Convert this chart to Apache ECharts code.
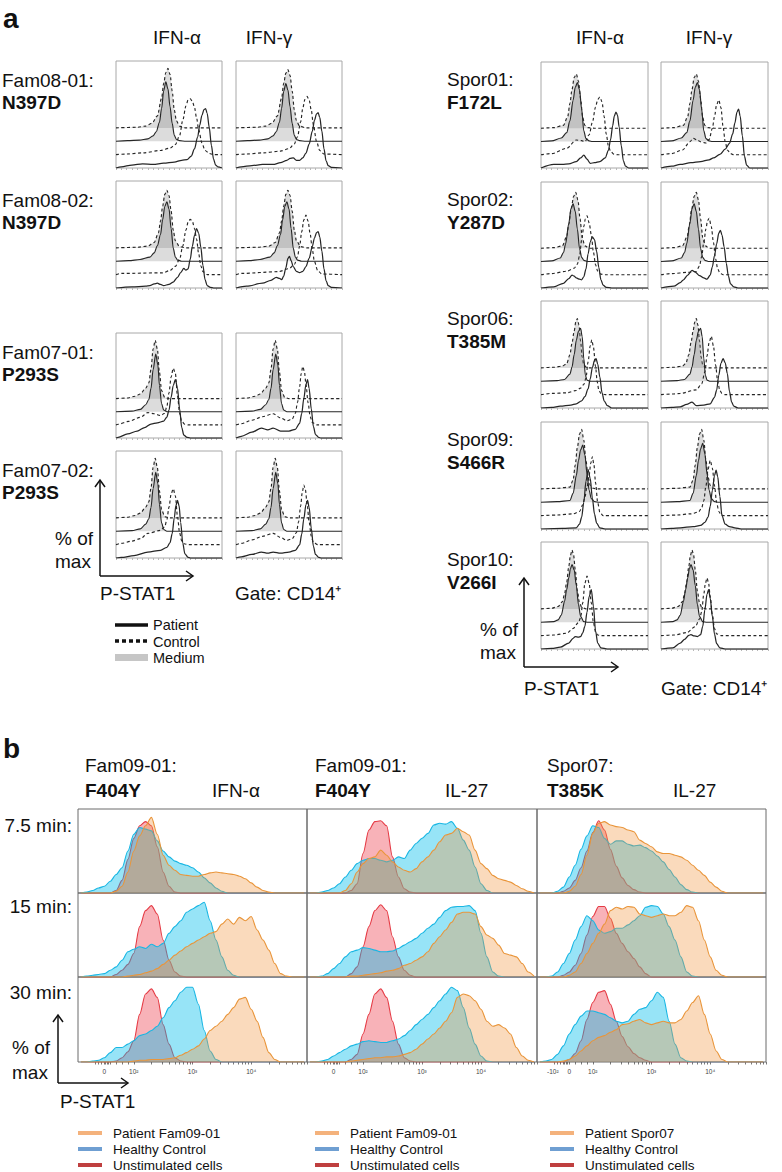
<!DOCTYPE html>
<html><head><meta charset="utf-8">
<script src="https://cdn.jsdelivr.net/npm/echarts@6/dist/echarts.min.js"></script>
<style>html,body{margin:0;padding:0;background:#fff}#c{width:782px;height:1172px}</style>
</head><body><div id="c"></div>
<script>
// ---------------- DATA: panel a ----------------
const A_STIM = ['IFN-α', 'IFN-γ'];
const A_LEFT_IDS = ['Fam08-01:', 'Fam08-02:', 'Fam07-01:', 'Fam07-02:'];
const A_LEFT_MUT = ['N397D', 'N397D', 'P293S', 'P293S'];
const A_RIGHT_IDS = ['Spor01:', 'Spor02:', 'Spor06:', 'Spor09:', 'Spor10:'];
const A_RIGHT_MUT = ['F172L', 'Y287D', 'T385M', 'S466R', 'V266I'];
const A_LEGEND = ['Patient', 'Control', 'Medium'];
// box order: L1a,L1g,L2a,L2g,L3a,L3g,L4a,L4g,R1a,R1g,...,R5a,R5g ; points [P-STAT1 position %, % of max]
const A_CTRL_MEDIUM = [
 [[0,0],[20,1],[28,3],[34,8],[39,20],[43,50],[45,75],[47,93],[49,100],[51,90],[53,62],[55,30],[57,12],[60,3],[66,0],[100,0]],
 [[0,0],[20,1],[28,3],[34,8],[39,20],[43,50],[45,75],[47,92],[49,98],[51,88],[53,62],[55,30],[57,12],[60,3],[66,0],[100,0]],
 [[0,0],[20,1],[30,3],[36,9],[40,25],[42,45],[44,70],[46,90],[48,97],[50,88],[52,62],[54,30],[56,12],[60,2],[66,0],[100,0]],
 [[0,0],[20,1],[31,3],[37,9],[41,25],[43,45],[45,70],[47,90],[49,97],[51,88],[53,62],[55,30],[57,12],[61,2],[67,0],[100,0]],
 [[0,0],[10,1],[18,4],[23,8],[28,18],[31,27],[33,50],[35,85],[37,100],[39,85],[41,45],[43,14],[46,2],[50,0],[100,0]],
 [[0,0],[10,1],[18,4],[23,8],[28,18],[31,27],[33,50],[35,85],[37,100],[39,85],[41,45],[43,14],[46,2],[50,0],[100,0]],
 [[0,0],[10,1],[18,4],[23,8],[28,18],[31,27],[33,50],[35,85],[37,100],[39,85],[41,45],[43,14],[46,2],[50,0],[100,0]],
 [[0,0],[10,1],[18,4],[23,8],[28,18],[31,27],[33,50],[35,85],[37,100],[39,85],[41,45],[43,14],[46,2],[50,0],[100,0]],
 [[0,0],[12,1],[21,5],[25,20],[27,42],[29,66],[31,86],[33,92],[35,80],[37,50],[39,18],[41,5],[44,1],[50,0],[100,0]],
 [[0,0],[12,1],[21,5],[25,20],[27,42],[29,66],[31,86],[33,92],[35,80],[37,50],[39,18],[41,5],[44,1],[50,0],[100,0]],
 [[0,0],[12,1],[20,4],[24,20],[26,40],[28,65],[30.5,88],[32.5,95],[34.5,82],[36.5,50],[38.5,18],[41,4],[45,0],[100,0]],
 [[0,0],[12,1],[20,4],[24.5,20],[26.5,40],[28.5,65],[31,88],[33,95],[35,82],[37,50],[39,18],[41.5,4],[45,0],[100,0]],
 [[0,0],[12,1],[20,3],[24,7],[27,22],[29,42],[31,62],[32.5,77],[34,83],[35.5,72],[37,45],[38.5,18],[40,5],[43,0],[100,0]],
 [[0,0],[12,1],[20,3],[23,7],[26,22],[28,42],[30,62],[31.5,77],[33,83],[34.5,72],[36,45],[37.5,18],[39,5],[42,0],[100,0]],
 [[0,0],[15,1],[27,3],[30,15],[32,40],[34,70],[36,92],[38,100],[40,82],[42,48],[44,20],[46,6],[49,1],[52,0],[100,0]],
 [[0,0],[15,1],[27,3],[30,15],[32,40],[34,70],[36,92],[38,100],[40,82],[42,48],[44,20],[46,6],[49,1],[52,0],[100,0]],
 [[0,0],[10,1],[16,4],[20,12],[22,25],[24,45],[26,72],[27.5,90],[29,99],[30.5,90],[32,66],[34,30],[36,10],[38,3],[42,0],[100,0]],
 [[0,0],[10,1],[16,4],[20,12],[22,25],[24,45],[26,72],[27.5,90],[29,99],[30.5,90],[32,66],[34,30],[36,10],[38,3],[42,0],[100,0]]
];
const A_PAT_MEDIUM = [
 [[0,0],[11,1],[22,2],[30,4],[35,9],[38,16],[41,32],[43,55],[45,85],[47,100],[49,88],[51,58],[53,30],[55,10],[57,3],[60,1],[66,0],[100,0]],
 [[0,0],[11,1],[22,2],[30,4],[35,9],[38,16],[41,32],[43,55],[45,84],[47,97],[49,86],[51,58],[53,30],[55,10],[57,3],[60,1],[66,0],[100,0]],
 [[0,0],[12,1],[22.6,3],[32,7],[36,14],[39,26],[42,45],[44,70],[46,92],[48,100],[50,88],[52,55],[54,22],[56,7],[58,2],[62,0],[100,0]],
 [[0,0],[12,1],[22.6,3],[32,7],[36,14],[39,26],[42,45],[44,70],[46,92],[48,100],[50,88],[52,55],[54,22],[56,7],[58,2],[62,0],[100,0]],
 [[0,0],[15,1],[23,4],[28,12],[31,21],[33,40],[35,72],[37.5,99],[39.5,80],[41,45],[43,14],[45,3],[48,0],[100,0]],
 [[0,0],[15,1],[23,4],[28,12],[31,21],[33,40],[35,72],[37.5,99],[39.5,80],[41,45],[43,14],[45,3],[48,0],[100,0]],
 [[0,0],[15,1],[23,4],[28,12],[31,21],[33,40],[35,72],[37.5,99],[39.5,80],[41,45],[43,14],[45,3],[48,0],[100,0]],
 [[0,0],[15,1],[23,4],[28,12],[31,21],[33,40],[35,72],[37.5,99],[39.5,80],[41,45],[43,14],[45,3],[48,0],[100,0]],
 [[0,0],[10,1],[19,6],[24,15],[27,35],[30,70],[32,92],[34,100],[36,88],[38,55],[40,18],[42,5],[45,1],[48,0],[100,0]],
 [[0,0],[10,1],[19,6],[24,15],[27,35],[30,70],[32,92],[34,100],[36,88],[38,55],[40,18],[42,5],[45,1],[48,0],[100,0]],
 [[0,0],[10,1],[18,6],[21,15],[23,30],[26,65],[28,90],[30,98],[32,85],[34,55],[36,22],[38,7],[40,2],[44,0],[100,0]],
 [[0,0],[10,1],[19,6],[22,15],[24,30],[27,65],[29,90],[31,98],[33,85],[35,55],[37,22],[39,7],[41,2],[45,0],[100,0]],
 [[0,0],[15,1],[22,3],[27,12],[29,24],[31,45],[33,69],[35,84],[37,89],[38.5,75],[40,38],[41.5,10],[43,2],[46,0],[100,0]],
 [[0,0],[15,1],[22,3],[27,12],[29,24],[31,45],[33,69],[35,84],[37,89],[38.5,75],[40,38],[41.5,10],[43,2],[46,0],[100,0]],
 [[0,0],[15,1],[27,3],[30,15],[33,45],[35,70],[37,88],[39,96],[41,80],[43,48],[45,20],[47,6],[50,1],[54,0],[100,0]],
 [[0,0],[15,1],[27,3],[30,15],[33,45],[35,70],[37,90],[39,99],[41,82],[43,48],[45,20],[47,6],[50,1],[54,0],[100,0]],
 [[0,0],[12,1],[16,4],[19,12],[22,35],[24,55],[26,75],[27.5,90],[29,97],[31,88],[33,62],[35,30],[37,10],[40,1],[44,0],[100,0]],
 [[0,0],[11,1],[15,4],[18,12],[21,35],[23,55],[25,75],[26.5,90],[28,97],[30,88],[32,62],[34,30],[36,10],[39,1],[43,0],[100,0]]
];
const A_CONTROL = [
 [[0,0],[10,1],[26,3],[42,7],[51,11],[56,17],[60,32],[63,58],[66,82],[68,92],[70,94],[72,90],[74,80],[76,62],[78,42],[81,20],[84,7],[88,2],[92,0],[100,0]],
 [[0,0],[10,1],[26,3],[42,6],[50,10],[55,18],[58,30],[61,55],[63,78],[65,93],[67,98],[69,92],[71,75],[73,50],[76,22],[79,7],[83,1],[100,0]],
 [[0,0],[5,2],[44,3],[51,7],[56,14],[60,26],[63,48],[66,75],[68,88],[70,93],[72,90],[74,78],[76,60],[78,35],[80,15],[82,5],[86,0],[100,0]],
 [[0,0],[5,2],[40,5],[50,10],[55,17],[58,30],[60,48],[62,72],[64,92],[66,100],[68,90],[70,68],[72,42],[74,22],[77,7],[81,1],[100,0]],
 [[0,0],[2,1],[12,6],[23,13],[30,21],[36,19],[42,16],[46,20],[48,32],[50,55],[52,82],[54,97],[56,88],[58,50],[60,20],[62,6],[65,1],[68,0],[100,0]],
 [[0,0],[5,2],[15,8],[25,14],[35,19],[42,12],[48,7],[53,10],[56,20],[58,38],[60,65],[61.5,88],[63,100],[64.5,92],[66,70],[68,38],[70,14],[72,4],[76,0],[100,0]],
 [[0,0],[5,2],[15,6],[23,10],[30,19],[42,24],[46,30],[48,42],[50,63],[52,85],[54,94],[56,82],[58,48],[60,20],[62,6],[65,1],[68,0],[100,0]],
 [[0,0],[5,2],[15,8],[25,14],[35,19],[42,12],[48,7],[53,10],[57,20],[59,38],[61,65],[62.5,88],[64,100],[65.5,92],[67,70],[69,38],[71,14],[73,4],[77,0],[100,0]],
 [[0,0],[10,2],[24,11],[33,25],[38,24],[41,22],[45,34],[48,55],[51,81],[53,94],[55,98],[57,90],[59,65],[61,35],[63,15],[65,6],[68,1],[72,0],[100,0]],
 [[0,0],[10,2],[20,8],[27,22],[30,28],[34,25],[37,22],[42,20],[45,26],[48,45],[50,65],[52,85],[54,93],[56,80],[58,48],[60,22],[62,8],[65,2],[68,0],[100,0]],
 [[0,0],[10,2],[24,6],[31,11],[34,18],[36,32],[38,59],[40,82],[41.5,95],[43,100],[45,88],[47,68],[49,38],[51,17],[53,6],[56,1],[60,0],[100,0]],
 [[0,0],[10,2],[25,4],[33,6],[36,15],[38,31],[40,55],[42,78],[43.5,92],[45,96],[47,82],[49,55],[51,27],[53,10],[55,3],[58,0],[100,0]],
 [[0,0],[10,2],[24,3],[33,7],[37,11],[40,17],[42,28],[44,55],[46,82],[47.5,92],[49,80],[51,47],[52.5,22],[54,8],[56,2],[60,0],[100,0]],
 [[0,0],[10,1],[18,2],[33,8],[38,18],[41,38],[43,65],[45,88],[47,98],[49,82],[51,50],[53,22],[55,7],[57,2],[60,0],[100,0]],
 [[0,0],[15,1],[30,3],[36,7],[39,18],[41,31],[43,48],[45,68],[46.5,88],[48,99],[49.5,85],[51,55],[53,22],[55,6],[58,0],[100,0]],
 [[0,0],[15,1],[28,3],[35,6],[38,13],[40,25],[42,50],[44,78],[46,93],[48,80],[50,50],[52,22],[54,7],[56,2],[58,0],[100,0]],
 [[0,0],[12,1],[24,4],[30,12],[35,22],[37,30],[39,55],[41,88],[43,100],[45,88],[47,55],[49,22],[51,6],[53,1],[56,0],[100,0]],
 [[0,0],[12,1],[24,5],[32,15],[36,28],[38,40],[40,70],[41.5,88],[43,97],[44.5,88],[46,66],[48,35],[50,12],[52,3],[56,0],[100,0]]
];
const A_PATIENT = [
 [[0,0],[5,2],[15,5],[25,7],[35,6],[45,8],[55,10],[62,13],[67,14],[71,20],[74,32],[77,52],[79,72],[81,88],[83,98],[84.5,100],[86,92],[88,68],[90,38],[92,15],[94,5],[96,2],[100,0]],
 [[0,0],[5,2],[15,4],[25,6],[35,6],[42,9],[48,13],[51,16],[54,17],[57,13],[60,13],[63,17],[66,25],[69,40],[72,62],[74,80],[76,91],[77.5,93],[79,85],[81,62],[83,32],[85,12],[87,4],[90,1],[100,0]],
 [[0,0],[15,2],[28,3],[32,4],[36,7],[39,8],[42,6],[45,4],[50,6],[54,10],[58,18],[61,26],[64,33],[66,30],[68,32],[70,48],[72,70],[74,88],[76,100],[78,92],[80,69],[82,38],[84,14],[86,4],[89,1],[92,0],[100,0]],
 [[0,0],[10,3],[25,8],[33,13],[38,18],[41,16],[43,14],[45,20],[47,34],[49,50],[50.5,53],[52,46],[54,36],[57,28],[60,26],[63,28],[66,36],[69,50],[72,70],[74,84],[76,93],[77.5,95],[79,86],[81,62],[83,32],[85,12],[87,4],[90,1],[100,0]],
 [[0,0],[2,1],[11,7],[20,12],[27,18],[33,24],[39,26],[45,29],[48,36],[50,48],[52,70],[54,90],[56,100],[58,86],[60,50],[62,18],[64,5],[67,1],[70,0],[100,0]],
 [[0,0],[5,3],[15,10],[24,17],[30,14],[35,17],[42,12],[50,12],[56,15],[60,25],[62,42],[64,68],[66,92],[67.5,100],[69,85],[71,50],[73,20],[75,6],[78,1],[80,0],[100,0]],
 [[0,0],[5,1],[17,4],[30,10],[42,13],[48,18],[51,26],[53,41],[55,68],[56.5,88],[58,97],[59.5,88],[61,60],[63,25],[65,7],[68,1],[70,0],[100,0]],
 [[0,0],[5,2],[15,6],[24,10],[30,8],[35,10],[42,8],[50,10],[56,13],[60,22],[62,40],[64,66],[66,90],[67.5,97],[69,85],[71,50],[73,20],[75,6],[78,1],[80,0],[100,0]],
 [[0,0],[12,6],[20,6],[26,7],[33,11],[37,17],[40,22],[43,15],[46,8],[50,9],[55,11],[60,17],[63,30],[65,48],[67,72],[68.5,88],[70,95],[71.5,90],[73,70],[75,38],[77,12],[79,3],[82,0],[100,0]],
 [[0,0],[10,3],[18,6],[28,9],[37,11],[45,14],[49,17],[55,23],[60,32],[64,42],[67,58],[69,76],[71,95],[72.5,100],[74,88],[76,55],[78,20],[80,5],[83,0],[100,0]],
 [[0,0],[12,2],[21,8],[26,16],[29,22],[31,20],[33,17],[36,15],[38,14],[40,19],[42,32],[44,58],[46,78],[48,87],[50,82],[52,62],[54,35],[56,14],[58,5],[61,1],[66,0],[100,0]],
 [[0,0],[12,3],[18,9],[21,14],[25,22],[29,30],[32,27],[36,21],[40,17],[43,15],[46,22],[48,36],[50,55],[52,75],[54,93],[55.5,98],[57,90],[59,70],[61,42],[63,20],[65,7],[68,2],[72,0],[100,0]],
 [[0,0],[10,1],[18,3],[28,5],[33,7],[38,12],[41,19],[44,32],[46,49],[48,68],[50,80],[51.5,83],[53,74],[55,52],[57,26],[59,12],[62,4],[66,0],[100,0]],
 [[0,0],[10,1],[18,2],[24,6],[29,10],[33,4],[40,5],[46,7],[50,18],[52,30],[54,55],[56,75],[58,83],[60,76],[62,58],[64,28],[66,10],[68,3],[72,0],[100,0]],
 [[0,0],[20,1],[33,2],[36,8],[38,20],[40,45],[42,80],[44,100],[46,85],[48,52],[50,25],[52,10],[55,2],[60,0],[100,0]],
 [[0,0],[10,1],[18,2],[30,4],[37,6],[41,11],[44,20],[46,38],[48,65],[50,90],[51.5,99],[53,88],[55,55],[57,22],[60,8],[64,4],[69,2],[75,0],[100,0]],
 [[0,0],[10,1],[18,3],[26,10],[30,18],[32,21],[35,20],[37,21],[39,27],[41,38],[43,62],[45,88],[47,100],[49,72],[51,30],[53,10],[56,2],[62,0],[100,0]],
 [[0,0],[11,2],[18,10],[22,16],[26,23],[28,24],[31,22],[34,21],[37,24],[39,38],[41,66],[43,92],[44.5,100],[46,85],[48,55],[50,25],[52,9],[55,2],[60,0],[100,0]]
];

// ---------------- DATA: panel b ----------------
const B_IDS = ['Fam09-01:', 'Fam09-01:', 'Spor07:'];
const B_MUT = ['F404Y', 'F404Y', 'T385K'];
const B_STIM = ['IFN-α', 'IL-27', 'IL-27'];
const B_TIMES = ['7.5 min:', '15 min:', '30 min:'];
const B_LEGENDS = [
 ['Patient Fam09-01', 'Healthy Control', 'Unstimulated cells'],
 ['Patient Fam09-01', 'Healthy Control', 'Unstimulated cells'],
 ['Patient Spor07', 'Healthy Control', 'Unstimulated cells']
];
const B_TICKS_STD = [[1.5,'0'],[2,'10²'],[3,'10³'],[4,'10⁴']];
const B_TICKS_SP = [[1.32,'-10²'],[1.6,'0'],[2,'10²'],[3,'10³'],[4,'10⁴']];
// x in display decades (10² = 2, 10³ = 3 ...)
const B_X = [1.1,1.2,1.3,1.4,1.5,1.6,1.7,1.8,1.9,2.0,2.1,2.2,2.3,2.4,2.5,2.6,2.7,2.8,2.9,3.0,3.1,3.2,3.3,3.4,3.5,3.6,3.7,3.8,3.9,4.0,4.1,4.2,4.3,4.4,4.5,4.6,4.7,4.8,4.9];
// order: col1 rows 1-3, col2 rows 1-3, col3 rows 1-3
const B_UNSTIM = [
 [0,0,0,0,0,0,3,15,40,65, 80,85,80,55,25,8,1,0,0,0, 0,0,0,0,0,0,0,0,0,0, 0,0,0,0,0,0,0,0,0],
 [0,0,0,0,0,0,3,8,15,28, 60,79,85,75,44,20,6,1,0,0, 0,0,0,0,0,0,0,0,0,0, 0,0,0,0,0,0,0,0,0],
 [0,0,0,0,0,0,1,5,12,25, 56,80,86,76,44,21,5,1,0,0, 0,0,0,0,0,0,0,0,0,0, 0,0,0,0,0,0,0,0,0],
 [0,0,0,0,0,0,0,3,11,47, 75,85,86,80,43,19,5,1,0,0, 0,0,0,0,0,0,0,0,0,0, 0,0,0,0,0,0,0,0,0],
 [0,0,0,0,0,0,0,4,12,36, 60,79,86,79,48,24,8,2,0,0, 0,0,0,0,0,0,0,0,0,0, 0,0,0,0,0,0,0,0,0],
 [0,0,0,0,0,0,0,3,9,33, 56,80,86,76,48,21,5,1,0,0, 0,0,0,0,0,0,0,0,0,0, 0,0,0,0,0,0,0,0,0],
 [0,0,0,0,2,6,15,30,50,72, 86,75,52,32,18,9,4,1,0,0, 0,0,0,0,0,0,0,0,0,0, 0,0,0,0,0,0,0,0,0],
 [0,0,0,0,2,6,14,28,50,72, 84,84,70,52,40,30,22,12,4,0, 0,0,0,0,0,0,0,0,0,0, 0,0,0,0,0,0,0,0,0],
 [0,0,0,0,0,3,10,25,50,70, 82,84,68,48,30,18,10,5,2,0, 0,0,0,0,0,0,0,0,0,0, 0,0,0,0,0,0,0,0,0]
];
const B_HEALTHY = [
 [0,1,3,6,8,14,22,30,50,70, 78,76,74,62,50,43,38,35,33,30, 25,18,12,6,2,0,0,0,0,0, 0,0,0,0,0,0,0,0,0],
 [0,1,2,3,4,8,12,20,30,33, 36,34,39,36,40,52,60,67,77,81, 85,89,67,44,24,8,2,0,0,0, 0,0,0,0,0,0,0,0,0],
 [0,0,1,2,5,11,17,17,21,25, 31,33,37,42,52,64,72,82,88,88, 68,37,13,3,0,0,0,0,0,0, 0,0,0,0,0,0,0,0,0],
 [0,0,1,3,6,11,19,27,35,39, 41,41,39,37,39,43,41,51,59,65, 71,81,83,82,85,77,63,51,31,11, 3,0,0,0,0,0,0,0,0],
 [0,0,1,4,10,16,24,30,32,35, 34,32,30,30,31,34,38,42,46,52, 58,63,71,79,83,84,84,85,79,52, 24,6,1,0,0,0,0,0,0],
 [0,0,1,3,7,11,15,19,21,24, 25,24,23,23,25,27,31,37,44,50, 56,64,72,80,88,84,64,40,21,7, 1,0,0,0,0,0,0,0,0],
 [0,0,0,2,7,19,33,52,68,80, 78,65,58,62,62,58,56,57,54,50, 44,37,28,19,10,4,1,0,0,0, 0,0,0,0,0,0,0,0,0],
 [0,0,1,6,16,28,44,60,73,67, 56,52,54,58,58,62,67,73,83,85, 84,75,60,44,24,6,1,0,0,0, 0,0,0,0,0,0,0,0,0],
 [0,1,3,9,19,33,44,54,60,60, 58,56,52,48,46,48,56,62,64,72, 82,76,48,21,5,1,0,0,0,0, 0,0,0,0,0,0,0,0,0]
];
const B_PATIENT = [
 [0,0,0,0,0,0,2,8,25,50, 68,80,90,70,45,33,27,22,21,20, 20,22,24,25,24,23,22,20,17,12, 7,3,1,0,0,0,0,0,0],
 [0,0,0,0,0,0,0,0,1,2, 3,5,7,10,15,20,26,31,36,40, 44,48,52,54,63,69,63,71,67,72, 56,44,32,16,4,1,0,0,0],
 [0,0,0,0,0,0,0,0,0,1, 2,2,3,3,3,4,5,8,11,15, 19,27,37,42,48,56,64,74,76,62, 48,29,11,3,0,0,0,0,0],
 [0,0,0,0,0,0,3,11,25,35, 41,43,51,45,37,31,27,25,29,37, 43,51,61,69,71,77,73,69,51,35, 29,21,17,15,13,9,5,2,0],
 [0,0,0,0,0,0,0,1,1,2, 3,4,5,7,8,10,14,16,20,24, 30,40,48,56,65,75,77,77,75,60, 50,46,38,28,26,24,16,6,1],
 [0,0,0,0,0,0,0,1,2,3, 4,5,5,6,6,7,9,11,15,21, 27,33,40,48,58,76,80,78,72,62, 48,42,44,40,33,17,7,2,0],
 [0,0,0,0,0,2,8,22,45,71, 83,85,81,79,78,75,73,63,59,55, 49,47,47,45,43,39,33,27,21,13, 7,2,0,0,0,0,0,0,0],
 [0,0,0,0,0,2,6,16,28,40, 52,63,79,83,81,84,83,75,73,71, 73,75,73,73,77,85,83,67,44,24, 8,2,0,0,0,0,0,0,0],
 [0,0,0,0,1,3,7,13,19,25, 29,31,35,38,44,45,48,50,46,44, 46,48,46,46,50,60,70,78,56,33, 13,3,0,0,0,0,0,0,0]
];

// ---------------- LAYOUT ----------------
const FONT = '"Liberation Sans", Arial, Helvetica, sans-serif';
const A_LEFT_COLS = [116, 236], A_LEFT_W = 106;
const A_LEFT_ROWS = [[61,107],[181,107],[333,105],[451,107]];
const A_RIGHT_COLS = [541, 661], A_RIGHT_W = 107;
const A_RIGHT_ROWS = [[62,106],[182,106],[301,107],[422,107],[542,107]];
const A_OFF = {pat:0, ctrl:22.5, pm:45, cm:67.5};
const B_COLS = [[78,229],[307,230],[537,229]];
const B_ROWS = [[809,84],[893,84],[977,85]];

const grids = [], xAxes = [], yAxes = [], series = [], graphics = [];

function shift(pts, off){ return pts.map(p => [p[0], p[1] + off]); }

function addABox(left, top, w, h, k){
  const gi = grids.length;
  grids.push({left:left, top:top, width:w, height:h, show:true, borderColor:'#a8a8a8', borderWidth:1, backgroundColor:'rgba(0,0,0,0)'});
  xAxes.push({type:'value', gridIndex:gi, min:0, max:100, interval:5,
    axisLine:{show:false}, axisLabel:{show:false}, splitLine:{show:false},
    axisTick:{show:true, length:2, lineStyle:{color:'#b8b8b8', width:1}}});
  yAxes.push({type:'value', gridIndex:gi, min:0, max:180, show:false});
  const base = {type:'line', xAxisIndex:gi, yAxisIndex:gi, showSymbol:false, symbol:'none',
    smooth:0.3, smoothMonotone:'x', silent:true, animation:false};
  series.push(Object.assign({}, base, {data:shift(A_CTRL_MEDIUM[k], A_OFF.cm), z:2,
    lineStyle:{color:'#262626', width:1.15, type:[3,2.5]},
    areaStyle:{color:'rgba(125,125,125,0.38)', origin:A_OFF.cm}}));
  series.push(Object.assign({}, base, {data:shift(A_PAT_MEDIUM[k], A_OFF.pm), z:3,
    lineStyle:{color:'#262626', width:1.15},
    areaStyle:{color:'rgba(125,125,125,0.38)', origin:A_OFF.pm}}));
  series.push(Object.assign({}, base, {data:shift(A_CONTROL[k], A_OFF.ctrl), z:4,
    lineStyle:{color:'#262626', width:1.15, type:[3,2.5]}}));
  series.push(Object.assign({}, base, {data:shift(A_PATIENT[k], A_OFF.pat), z:5,
    lineStyle:{color:'#262626', width:1.25}}));
}
let k = 0;
A_LEFT_ROWS.forEach(r => { A_LEFT_COLS.forEach(c => { addABox(c, r[0], A_LEFT_W, r[1], k++); }); });
A_RIGHT_ROWS.forEach(r => { A_RIGHT_COLS.forEach(c => { addABox(c, r[0], A_RIGHT_W, r[1], k++); }); });

// panel b
const minorTicks = [];
[1.35,1.4,1.45,1.5,1.52,1.54,1.56,1.6,1.7,1.8,1.9].forEach(v => minorTicks.push(v));
[2,3,4].forEach(d => { for (let m = 1; m <= 9; m++) minorTicks.push(d + Math.log10(m)); });
minorTicks.push(4.95);
const B_LINE = ['#e53b45', '#18b6e3', '#e9953a'];
const B_FILL = ['rgba(235,45,60,0.52)', 'rgba(0,190,235,0.58)', 'rgba(242,150,62,0.5)'];
B_COLS.forEach((c, ci) => {
  B_ROWS.forEach((r, ri) => {
    const gi = grids.length, bi = ci * 3 + ri;
    const bottom = ri === 2;
    const ticks = ci === 2 ? B_TICKS_SP : B_TICKS_STD;
    grids.push({left:c[0], top:r[0], width:c[1], height:r[1], show:true, borderColor:'#6a6a6a', borderWidth:1, backgroundColor:'rgba(0,0,0,0)'});
    xAxes.push({type:'value', gridIndex:gi, min:1.05, max:4.95,
      axisLine:{show:false}, splitLine:{show:false},
      axisTick:{show:bottom, length:2.5, customValues:minorTicks, lineStyle:{color:'#555', width:0.8}},
      axisLabel:{show:bottom, customValues:ticks.map(t => t[0]), fontSize:6.5, color:'#444', margin:6, fontFamily:FONT,
        formatter:v => { let best = ticks[0]; ticks.forEach(t => { if (Math.abs(t[0]-v) < Math.abs(best[0]-v)) best = t; }); return best[1]; }}});
    yAxes.push({type:'value', gridIndex:gi, min:0, max:100, show:false});
    [B_UNSTIM, B_HEALTHY, B_PATIENT].forEach((arr, si) => {
      series.push({type:'line', xAxisIndex:gi, yAxisIndex:gi, showSymbol:false, symbol:'none', smooth:0.3, smoothMonotone:'x',
        silent:true, animation:false, z:2+si,
        data:B_X.map((x, j) => [x, arr[bi][j]]),
        lineStyle:{color:B_LINE[si], width:1.1},
        areaStyle:{color:B_FILL[si]}});
    });
  });
});

// ---------------- TEXT & DECORATION ----------------
function T(x, y, s, o){
  o = o || {};
  return {type:'text', x:x, y:y, silent:true, z:100, style:{text:s, fill:o.fill || '#111', fontSize:o.size || 19,
    fontFamily:FONT, fontWeight:o.bold ? 'bold' : 'normal', align:o.align || 'left', verticalAlign:'middle',
    textAlign:o.align || 'left', textVerticalAlign:'middle'}};
}
function L(x1, y1, x2, y2, o){
  o = o || {};
  return {type:'line', silent:true, z:100, shape:{x1:x1, y1:y1, x2:x2, y2:y2},
    style:{stroke:o.color || '#111', lineWidth:o.w || 1.5, lineDash:o.dash || null}};
}
function P(pts, o){
  o = o || {};
  return {type:'polyline', silent:true, z:100, shape:{points:pts}, style:{stroke:'#111', fill:null, lineWidth:o.w || 1.5}};
}
function axesArrow(x0, y0, yTop, xRight){
  graphics.push(L(x0, y0, x0, yTop));
  graphics.push(P([[x0-5, yTop+7], [x0, yTop], [x0+5, yTop+7]]));
  graphics.push(L(x0, y0, xRight, y0));
  graphics.push(P([[xRight-7, y0-5], [xRight, y0], [xRight-7, y0+5]]));
}

graphics.push(T(3, 18, 'a', {bold:true, size:28}));
graphics.push(T(177, 37, A_STIM[0], {align:'center'}));
graphics.push(T(269, 37, A_STIM[1], {align:'center'}));
graphics.push(T(600, 37, A_STIM[0], {align:'center'}));
graphics.push(T(709, 37, A_STIM[1], {align:'center'}));
A_LEFT_ROWS.forEach((r, i) => {
  graphics.push(T(2, r[0] + 19, A_LEFT_IDS[i]));
  graphics.push(T(2, r[0] + 41, A_LEFT_MUT[i], {bold:true}));
});
A_RIGHT_ROWS.forEach((r, i) => {
  graphics.push(T(447, r[0] + 17, A_RIGHT_IDS[i]));
  graphics.push(T(447, r[0] + 40, A_RIGHT_MUT[i], {bold:true}));
});
// left axes indicator
axesArrow(100, 576, 480, 193);
graphics.push(T(55, 538, '% of'));
graphics.push(T(55, 561, 'max'));
graphics.push(T(100, 593, 'P-STAT1'));
graphics.push(T(235, 593, 'Gate: CD14⁺'));
// right axes indicator
axesArrow(524, 667, 578, 618);
graphics.push(T(480, 629, '% of'));
graphics.push(T(480, 652, 'max'));
graphics.push(T(524, 688, 'P-STAT1'));
graphics.push(T(661, 688, 'Gate: CD14⁺'));
// panel a legend
graphics.push(L(115, 625, 148, 625, {w:3.5}));
graphics.push(L(115, 641, 148, 641, {w:3.5, dash:[4,3]}));
graphics.push({type:'rect', silent:true, z:100, shape:{x:115, y:654, width:33, height:7}, style:{fill:'#c6c6c6'}});
A_LEGEND.forEach((s, i) => graphics.push(T(153, 625 + i * 16.5, s, {size:14.5})));

// panel b texts
graphics.push(T(3, 748, 'b', {bold:true, size:28}));
const B_HEAD_X = [[85, 212], [315, 445], [547, 673]];
B_HEAD_X.forEach((hx, i) => {
  graphics.push(T(hx[0], 765, B_IDS[i]));
  graphics.push(T(hx[0], 790, B_MUT[i], {bold:true}));
  graphics.push(T(hx[1], 790, B_STIM[i]));
});
const B_TIME_Y = [825, 906, 992];
B_TIMES.forEach((s, i) => graphics.push(T(72, B_TIME_Y[i], s, {align:'right'})));
axesArrow(58, 1083, 1015, 128);
graphics.push(T(12, 1047, '% of'));
graphics.push(T(12, 1072, 'max'));
graphics.push(T(60, 1101, 'P-STAT1'));
const B_LEG_X = [[78, 113], [315, 350], [550, 585]];
const B_SWATCH = ['#f4b27c', '#6f9fd2', '#bf3f3f'];
B_LEGENDS.forEach((labels, ci) => {
  labels.forEach((s, i) => {
    const y = 1133 + i * 16;
    graphics.push(L(B_LEG_X[ci][0], y, B_LEG_X[ci][0] + 24, y, {w:4, color:B_SWATCH[i]}));
    graphics.push(T(B_LEG_X[ci][1], y, s, {size:13.5}));
  });
});

const chart = echarts.init(document.getElementById('c'), null, {renderer:'svg', width:782, height:1172});
chart.setOption({
  animation:false,
  backgroundColor:'#ffffff',
  grid:grids, xAxis:xAxes, yAxis:yAxes, series:series, graphic:graphics
});
</script></body></html>
